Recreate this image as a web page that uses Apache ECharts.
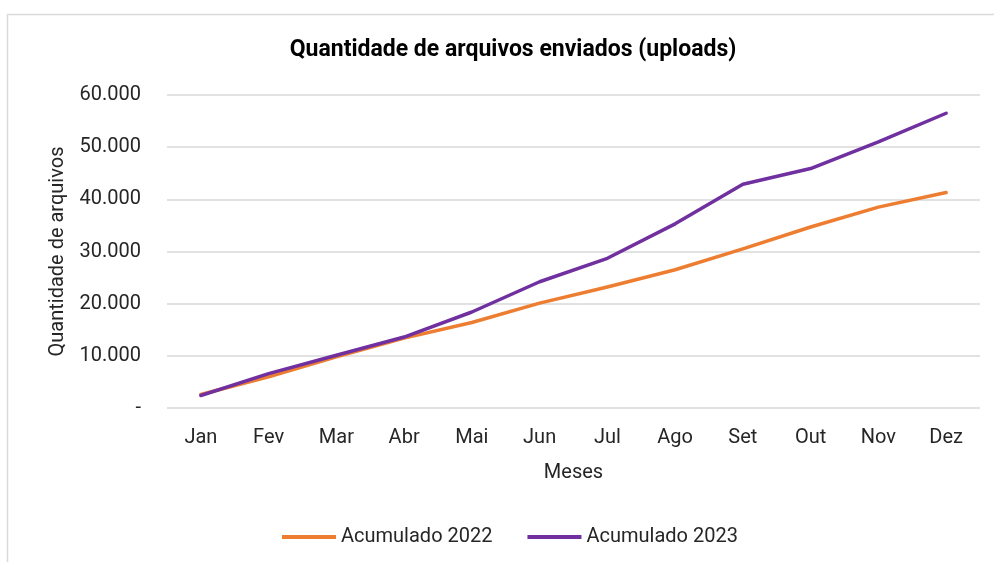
<!DOCTYPE html>
<html>
<head>
<meta charset="utf-8">
<script src="https://cdn.jsdelivr.net/npm/echarts@6/dist/echarts.min.js"></script>
<style>
  html, body { margin: 0; padding: 0; background: #fff; }
  #chart { width: 994px; height: 562px; }
</style>
</head>
<body>
<div id="chart"></div>
<script>
const meses = ['Jan', 'Fev', 'Mar', 'Abr', 'Mai', 'Jun', 'Jul', 'Ago', 'Set', 'Out', 'Nov', 'Dez'];
const acumulado2022 = [2600, 6000, 9800, 13400, 16400, 20100, 23200, 26500, 30500, 34700, 38500, 41300];
const acumulado2023 = [2400, 6600, 10100, 13600, 18400, 24200, 28700, 35300, 42900, 45900, 51000, 56500];

const chart = echarts.init(document.getElementById('chart'));

// formato pt-BR: 10.000, zero vira "-"
function fmt(v) {
  if (v === 0) return '-';
  return String(v).replace(/\B(?=(\d{3})+(?!\d))/g, '.');
}

const txt = '#262626';
const fonte = 'Roboto, "Noto Sans", sans-serif';

var option = {
  color: ['#ED7D31', '#7030A0'],
  textStyle: { fontFamily: fonte },
  graphic: [{
    type: 'rect',
    left: 5,
    top: 12,
    shape: { width: 1010, height: 600 },
    style: { fill: 'none', stroke: '#d9d9d9', lineWidth: 1.5 },
    silent: true
  }],
  title: {
    text: 'Quantidade de arquivos enviados (uploads)',
    left: 508,
    textAlign: 'center',
    top: 34,
    textStyle: { fontSize: 23, fontWeight: 'bold', color: '#000', fontFamily: fonte }
  },
  legend: {
    top: 522,
    left: 277,
    itemWidth: 54,
    itemHeight: 4,
    itemGap: 35,
    icon: 'rect',
    textStyle: { fontSize: 20, color: txt },
    data: ['Acumulado 2022', 'Acumulado 2023']
  },
  grid: { left: 167, right: 14, top: 95, bottom: 154 },
  xAxis: {
    type: 'category',
    data: meses,
    name: 'Meses',
    nameLocation: 'middle',
    nameGap: 55,
    nameTextStyle: { fontSize: 20, color: txt },
    axisLine: { show: false },
    axisTick: { show: false },
    axisLabel: { fontSize: 20, color: txt, margin: 20 }
  },
  yAxis: {
    type: 'value',
    min: 0,
    max: 60000,
    interval: 10000,
    name: 'Quantidade de arquivos',
    nameLocation: 'middle',
    nameGap: 99,
    nameTextStyle: { fontSize: 20, color: txt },
    axisLine: { show: false },
    axisTick: { show: false },
    splitLine: { lineStyle: { color: '#d9d9d9', width: 1.5 } },
    axisLabel: { fontSize: 20, color: txt, margin: 26, formatter: fmt }
  },
  series: [{
    name: 'Acumulado 2022',
    type: 'line',
    data: acumulado2022,
    symbol: 'none',
    lineStyle: { width: 3.5, cap: 'round', join: 'round' }
  }, {
    name: 'Acumulado 2023',
    type: 'line',
    data: acumulado2023,
    symbol: 'none',
    lineStyle: { width: 3.5, cap: 'round', join: 'round' }
  }]
};

chart.setOption(option);
</script>
</body>
</html>
